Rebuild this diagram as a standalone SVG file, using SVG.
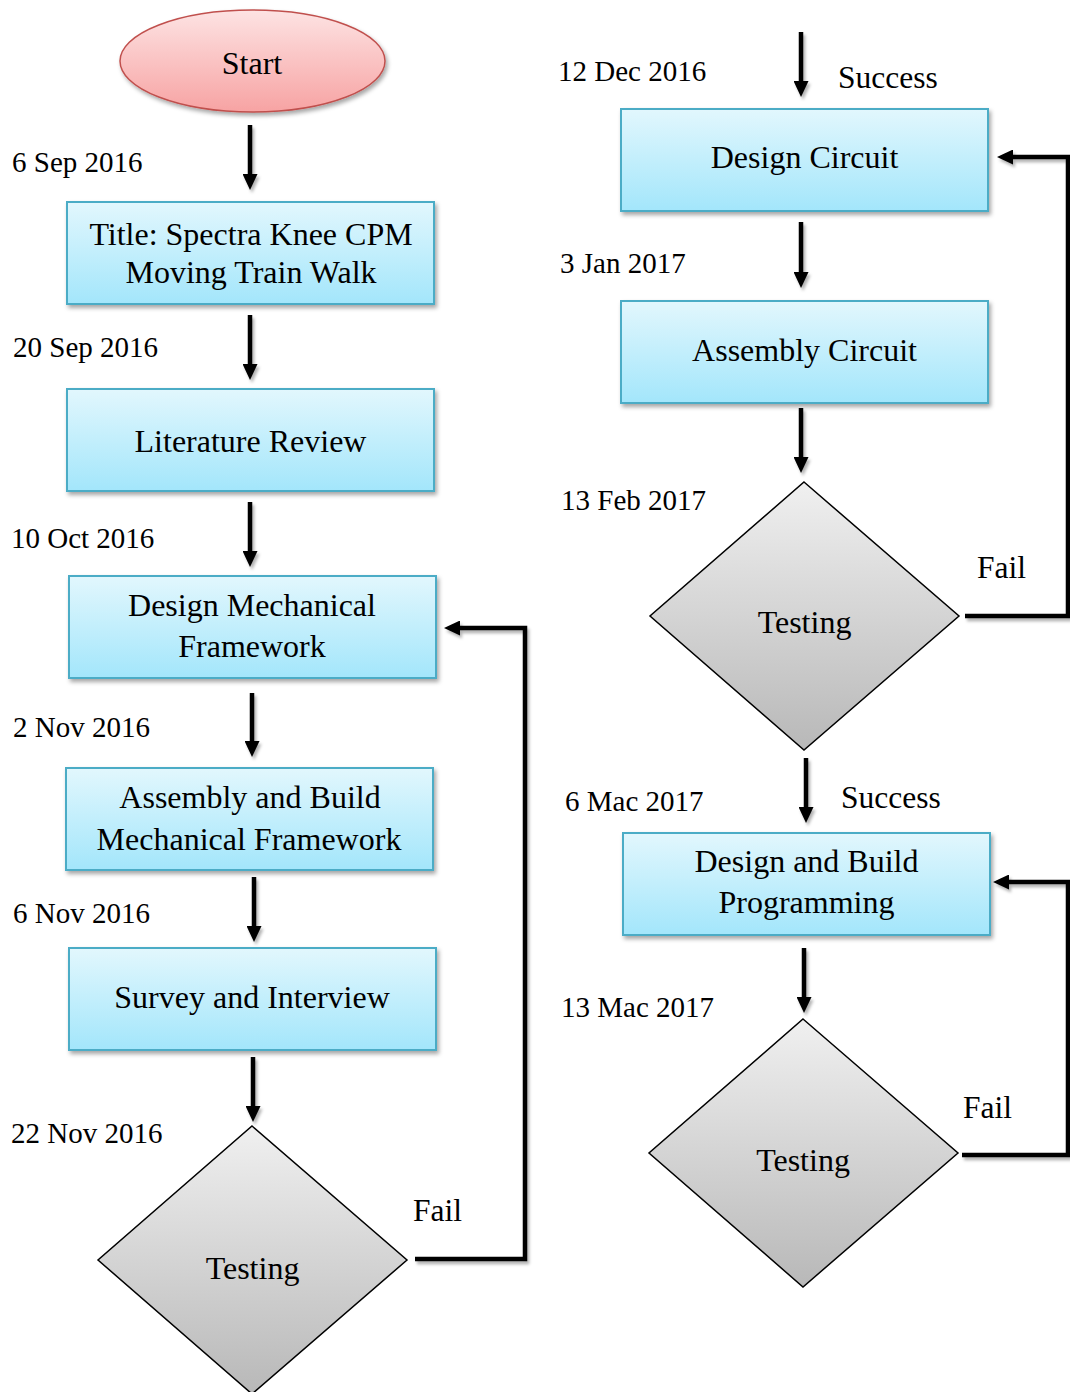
<svg xmlns="http://www.w3.org/2000/svg" width="1070" height="1392" viewBox="0 0 1070 1392">
<defs>
<linearGradient id="gBox" x1="0" y1="0" x2="0" y2="1">
<stop offset="0" stop-color="#e2f7fd"/>
<stop offset="1" stop-color="#a3e6fb"/>
</linearGradient>
<linearGradient id="gStart" x1="0" y1="0" x2="0" y2="1">
<stop offset="0" stop-color="#fde3e3"/>
<stop offset="1" stop-color="#f7a3a3"/>
</linearGradient>
<linearGradient id="gDia" x1="0" y1="0" x2="0" y2="1">
<stop offset="0" stop-color="#f0f0f0"/>
<stop offset="1" stop-color="#b8b8b8"/>
</linearGradient>
<filter id="sh" x="-10%" y="-10%" width="130%" height="130%">
<feDropShadow dx="2" dy="3" stdDeviation="2" flood-color="#000" flood-opacity="0.35"/>
</filter>
<filter id="shc" filterUnits="userSpaceOnUse" x="0" y="0" width="1070" height="1392">
<feDropShadow dx="2" dy="3" stdDeviation="1.5" flood-color="#000" flood-opacity="0.3"/>
</filter>
<marker id="ah" viewBox="0 0 16 15" refX="3" refY="7.5" markerWidth="16" markerHeight="15" markerUnits="userSpaceOnUse" orient="auto">
<path d="M0,0 L16,7.5 L0,15 z" fill="#000"/>
</marker>
</defs>
<style>
.box{fill:url(#gBox);stroke:#4bacc6;stroke-width:2;filter:url(#sh)}
.dia{fill:url(#gDia);stroke:#000;stroke-width:1.5}
.t{font-family:"Liberation Serif","Times New Roman",serif;font-size:32px;fill:#000;text-anchor:middle}
.d{font-family:"Liberation Serif","Times New Roman",serif;font-size:29px;fill:#000}
.l{font-family:"Liberation Serif","Times New Roman",serif;font-size:31.5px;fill:#000}
.c{fill:none;stroke:#000;stroke-width:4.5;marker-end:url(#ah)}
</style>
<rect width="1070" height="1392" fill="#fff"/>

<g id="start">
<ellipse cx="252.5" cy="61" rx="132.5" ry="51" fill="url(#gStart)" stroke="#c0504d" stroke-width="1.5" filter="url(#sh)"/>
<text class="t" x="252" y="74">Start</text>
</g>
<g id="title">
<rect class="box" x="67" y="202" width="367" height="102"/>
<text class="t" x="251" y="245">Title: Spectra Knee CPM</text>
<text class="t" x="251" y="283">Moving Train Walk</text>
</g>
<g id="literature">
<rect class="box" x="67" y="389" width="367" height="102"/>
<text class="t" x="250.5" y="452">Literature Review</text>
</g>
<g id="design-mech">
<rect class="box" x="69" y="576" width="367" height="102"/>
<text class="t" x="252" y="616">Design Mechanical</text>
<text class="t" x="252" y="657">Framework</text>
</g>
<g id="assembly-mech">
<rect class="box" x="66" y="768" width="367" height="102"/>
<text class="t" x="250" y="808">Assembly and Build</text>
<text class="t" x="249" y="850">Mechanical Framework</text>
</g>
<g id="survey">
<rect class="box" x="69" y="948" width="367" height="102"/>
<text class="t" x="252" y="1008">Survey and Interview</text>
</g>
<g id="testing-1">
<polygon class="dia" points="252,1126 407,1260 252,1394 98,1260"/>
<text class="t" x="252.5" y="1279">Testing</text>
</g>
<g id="design-circuit">
<rect class="box" x="621" y="109" width="367" height="102"/>
<text class="t" x="804.5" y="168">Design Circuit</text>
</g>
<g id="assembly-circuit">
<rect class="box" x="621" y="301" width="367" height="102"/>
<text class="t" x="804.5" y="361">Assembly Circuit</text>
</g>
<g id="testing-2">
<polygon class="dia" points="804,482 959,616 804,750 650,616"/>
<text class="t" x="804.5" y="633">Testing</text>
</g>
<g id="programming">
<rect class="box" x="623" y="833" width="367" height="102"/>
<text class="t" x="806.5" y="872">Design and Build</text>
<text class="t" x="806.5" y="913">Programming</text>
</g>
<g id="testing-3">
<polygon class="dia" points="803,1019 958,1153 803,1287 649,1153"/>
<text class="t" x="803" y="1171">Testing</text>
</g>

<g id="connectors" filter="url(#shc)">
<path class="c" d="M250,125 V177"/>
<path class="c" d="M250,315 V367"/>
<path class="c" d="M250,502 V554"/>
<path class="c" d="M252,693 V744"/>
<path class="c" d="M254,877 V929"/>
<path class="c" d="M253,1057 V1109"/>
<path class="c" d="M801,32 V84"/>
<path class="c" d="M801,222 V275"/>
<path class="c" d="M801,408 V460"/>
<path class="c" d="M806,758 V810"/>
<path class="c" d="M804,948 V1000"/>
<path class="c" d="M415,1259 H525 V628 H457"/>
<path class="c" d="M965,616 H1068 V157 H1010"/>
<path class="c" d="M962,1155 H1068 V882 H1006"/>
</g>

<g id="labels">
<text class="d" x="12" y="172">6 Sep 2016</text>
<text class="d" x="13" y="357">20 Sep 2016</text>
<text class="d" x="11" y="548">10 Oct 2016</text>
<text class="d" x="13" y="737">2 Nov 2016</text>
<text class="d" x="13" y="923">6 Nov 2016</text>
<text class="d" x="11" y="1143">22 Nov 2016</text>
<text class="l" x="413" y="1221">Fail</text>
<text class="d" x="558" y="81">12 Dec 2016</text>
<text class="l" x="838" y="88">Success</text>
<text class="d" x="560" y="273">3 Jan 2017</text>
<text class="d" x="561" y="510">13 Feb 2017</text>
<text class="l" x="977" y="578">Fail</text>
<text class="d" x="565" y="811">6 Mac 2017</text>
<text class="l" x="841" y="808">Success</text>
<text class="d" x="561" y="1017">13 Mac 2017</text>
<text class="l" x="963" y="1118">Fail</text>
</g>
</svg>
